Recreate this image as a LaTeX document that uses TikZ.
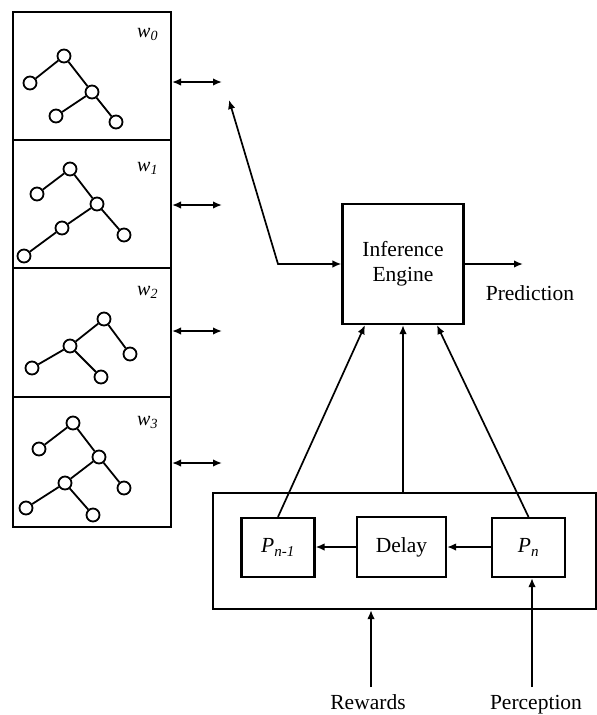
\documentclass[tikz,border=0pt]{standalone}
\usepackage{fontspec}
\setmainfont{Liberation Serif}
\usetikzlibrary{arrows.meta}
\begin{document}
\begin{tikzpicture}[x=1pt,y=-1pt,
  panel/.style={draw, line width=2pt, minimum width=158pt, inner sep=0pt},
  box/.style={draw, line width=2.2pt, inner sep=0pt},
  vtx/.style={circle, draw, line width=1.8pt, minimum size=13pt, inner sep=0pt, fill=white},
  edge/.style={line width=1.8pt},
  tip/.tip={Latex[length=9pt,width=7.5pt]},
  arr/.style={line width=1.7pt, -tip},
  dbl/.style={line width=1.7pt, tip-tip},
  lbl/.style={inner sep=0pt, font=\fontsize{21.5}{25}\selectfont},
  wlbl/.style={inner sep=0pt, anchor=base west, font=\fontsize{20}{24}\selectfont\itshape}]
\useasboundingbox (0,0) rectangle (597,715);

% world model panels
\node[panel, minimum height=128pt] (p0) at (92,76) {};
\node[panel, minimum height=128pt] (p1) at (92,204) {};
\node[panel, minimum height=129pt] (p2) at (92,332.5) {};
\node[panel, minimum height=130pt] (p3) at (92,462) {};

\node[wlbl] (w0) at (137,37) {w\textsubscript{0}};
\node[wlbl] (w1) at (137,171) {w\textsubscript{1}};
\node[wlbl] (w2) at (137,295) {w\textsubscript{2}};
\node[wlbl] (w3) at (137,425) {w\textsubscript{3}};

% tree in w0
\node[vtx] (t0a) at (64,56) {};
\node[vtx] (t0b) at (30,83) {};
\node[vtx] (t0c) at (92,92) {};
\node[vtx] (t0d) at (56,116) {};
\node[vtx] (t0e) at (116,122) {};
\draw[edge] (t0a) -- (t0b) (t0a) -- (t0c) (t0c) -- (t0d) (t0c) -- (t0e);

% tree in w1
\node[vtx] (t1a) at (70,169) {};
\node[vtx] (t1b) at (37,194) {};
\node[vtx] (t1c) at (97,204) {};
\node[vtx] (t1d) at (62,228) {};
\node[vtx] (t1e) at (124,235) {};
\node[vtx] (t1f) at (24,256) {};
\draw[edge] (t1a) -- (t1b) (t1a) -- (t1c) (t1c) -- (t1d) (t1c) -- (t1e) (t1d) -- (t1f);

% tree in w2
\node[vtx] (t2a) at (104,319) {};
\node[vtx] (t2b) at (70,346) {};
\node[vtx] (t2c) at (130,354) {};
\node[vtx] (t2d) at (32,368) {};
\node[vtx] (t2e) at (101,377) {};
\draw[edge] (t2a) -- (t2b) (t2a) -- (t2c) (t2b) -- (t2d) (t2b) -- (t2e);

% tree in w3
\node[vtx] (t3a) at (73,423) {};
\node[vtx] (t3b) at (39,449) {};
\node[vtx] (t3c) at (99,457) {};
\node[vtx] (t3d) at (65,483) {};
\node[vtx] (t3e) at (124,488) {};
\node[vtx] (t3f) at (26,508) {};
\node[vtx] (t3g) at (93,515) {};
\draw[edge] (t3a) -- (t3b) (t3a) -- (t3c) (t3c) -- (t3d) (t3c) -- (t3e) (t3d) -- (t3f) (t3d) -- (t3g);

% panel links
\coordinate (c0) at (222,82);
\coordinate (c1) at (222,205);
\coordinate (c2) at (222,331);
\coordinate (c3) at (222,463);
\draw[dbl] (p0.east |- c0) -- (c0);
\draw[dbl] (p1.east |- c1) -- (c1);
\draw[dbl] (p2.east |- c2) -- (c2);
\draw[dbl] (p3.east |- c3) -- (c3);

% inference engine
\node[box, lbl, minimum width=121pt, minimum height=120pt, align=center] (ie) at (403,264) {Inference\\Engine};
\coordinate (tc) at (229,100);
\coordinate (k) at (278,264);
\draw[dbl] (tc) -- (k) -- (ie.west);
\coordinate (pe) at (523,264);
\draw[arr] (ie.east) -- (pe);
\node[lbl, anchor=base] (pred) at (530,300) {Prediction};

% perception memory
\node[box, minimum width=383pt, minimum height=116pt] (ob) at (404.5,551) {};
\node[box, lbl, minimum width=73pt, minimum height=59pt] (pn1) at (278,547.5) {\textit{P}\textsubscript{\textit{n-1}}};
\node[box, lbl, minimum width=89pt, minimum height=60pt] (dl) at (401.5,547) {Delay};
\node[box, lbl, minimum width=73pt, minimum height=59pt] (pn) at (528.5,547.5) {\textit{P}\textsubscript{\textit{n}}};
\draw[arr] (dl.west) -- (pn1.east |- dl.west);
\draw[arr] (pn.west |- dl.east) -- (dl.east);

\draw[arr] (pn1.north) -- ([xshift=-38pt]ie.south);
\draw[arr] (ie.south |- ob.north) -- (ie.south);
\draw[arr] (pn.north) -- ([xshift=34pt]ie.south);

% inputs
\coordinate (rw) at (371,687);
\coordinate (pc) at (532,687);
\draw[arr] (rw) -- (rw |- ob.south);
\draw[arr] (pc) -- (pc |- pn.south);
\node[lbl, anchor=base] (rwl) at (368,709) {Rewards};
\node[lbl, anchor=base] (pcl) at (536,709) {Perception};
\end{tikzpicture}
\end{document}
